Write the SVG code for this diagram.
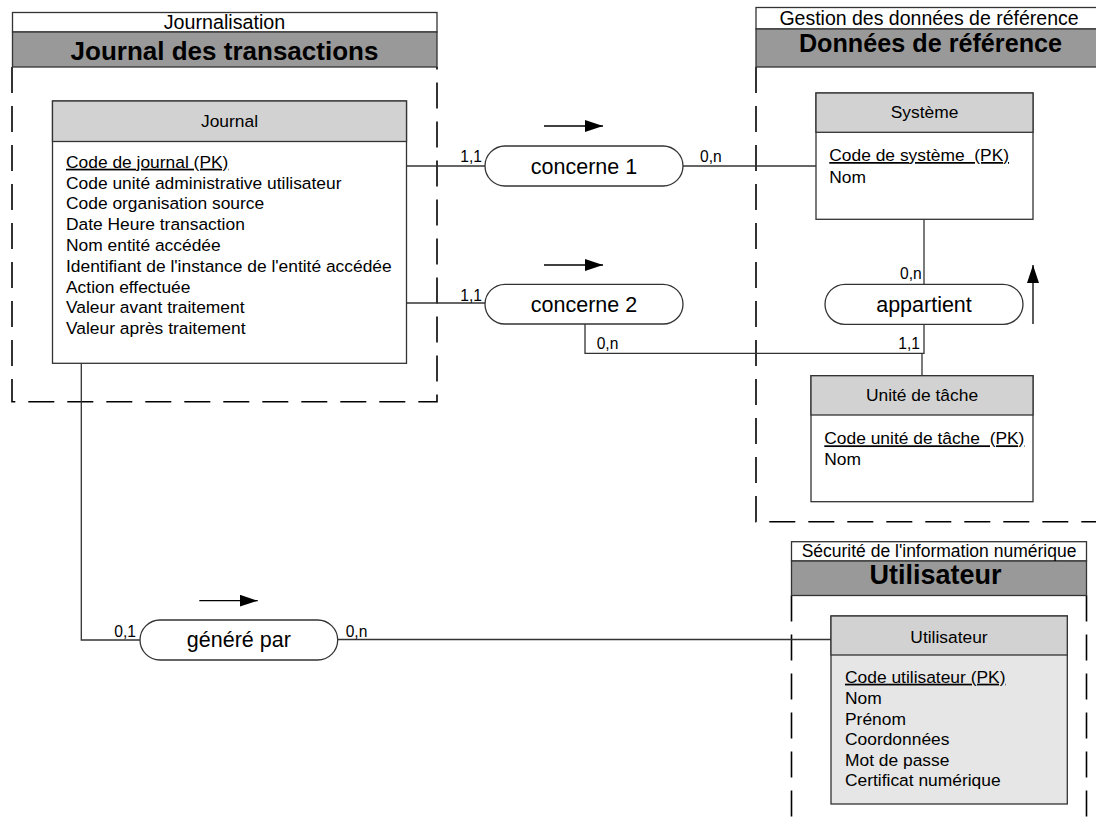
<svg xmlns="http://www.w3.org/2000/svg" width="1096" height="820" viewBox="0 0 1096 820">
<defs>
<style>
text{font-family:"Liberation Sans",Arial,sans-serif;fill:#000}
.pkgt{fill:#fff;stroke:#333;stroke-width:1.3}
.pkgb{fill:#999;stroke:#333;stroke-width:1.3}
.dash{fill:none;stroke:#000;stroke-width:1.6;stroke-dasharray:26 13}
.ent{fill:#fff;stroke:#333;stroke-width:1.3}
.entg{fill:#e6e6e6;stroke:#333;stroke-width:1.3}
.hdr{fill:#d2d2d2;stroke:#333;stroke-width:1.3}
.pill{fill:#fff;stroke:#333;stroke-width:1.3}
.ln{fill:none;stroke:#333;stroke-width:1.3}
.t17{font-size:17.4px}
.big{font-size:21.5px}
.card{font-size:15.6px}
.bold{font-weight:bold}
</style>
<marker id="arr" markerUnits="userSpaceOnUse" markerWidth="18" markerHeight="12" refX="18" refY="6" orient="auto">
<polygon points="0,0 18,6 0,12" fill="#000"/>
</marker>
</defs>
<rect width="1096" height="820" fill="#fff"/>

<g id="pkg-journalisation">
<path class="dash" d="M12,67 V401.7 H437 V67"/>
<rect class="pkgt" x="12.5" y="12.5" width="424.5" height="19.5"/>
<rect class="pkgb" x="12.5" y="32" width="424.5" height="35"/>
<text x="224.5" y="29" text-anchor="middle" style="font-size:19.7px">Journalisation</text>
<text x="224.5" y="59.5" text-anchor="middle" class="bold" style="font-size:26px">Journal des transactions</text>
</g>

<g id="pkg-reference">
<path class="dash" d="M756,67 V521.7 H1110"/>
<rect class="pkgt" x="756" y="7.5" width="346" height="21.5"/>
<rect class="pkgb" x="756" y="29" width="346" height="38"/>
<text x="929" y="24.5" text-anchor="middle" style="font-size:19.5px">Gestion des données de référence</text>
<text x="930.5" y="51.5" text-anchor="middle" class="bold" style="font-size:25.2px">Données de référence</text>
</g>

<g id="pkg-utilisateur">
<path class="dash" d="M791.5,595.5 V830 M1086.5,595.5 V830"/>
<rect class="pkgt" x="791.5" y="541.7" width="295" height="19.3"/>
<rect class="pkgb" x="791.5" y="561" width="295" height="34.5"/>
<text x="939" y="556.7" text-anchor="middle" style="font-size:17.5px">Sécurité de l'information numérique</text>
<text x="935.5" y="584.3" text-anchor="middle" class="bold" style="font-size:27px">Utilisateur</text>
</g>

<g id="connectors">
<path class="ln" d="M406,166 H485"/>
<path class="ln" d="M683,166 H816"/>
<path class="ln" d="M406,303 H485"/>
<path class="ln" d="M585,324 V353.3 H924 V324"/>
<path class="ln" d="M924,219.3 V284.3"/>
<path class="ln" d="M922,353.3 V375.7"/>
<path class="ln" d="M81.3,363.3 V640 H140"/>
<path class="ln" d="M337.7,639.5 H831"/>
<text class="card" x="482" y="162" text-anchor="end">1,1</text>
<text class="card" x="700" y="162">0,n</text>
<text class="card" x="482" y="300.7" text-anchor="end">1,1</text>
<text class="card" x="596.7" y="349.3">0,n</text>
<text class="card" x="921.7" y="279.3" text-anchor="end">0,n</text>
<text class="card" x="920" y="349.3" text-anchor="end">1,1</text>
<text class="card" x="136" y="636.7" text-anchor="end">0,1</text>
<text class="card" x="345.7" y="636.7">0,n</text>
<path d="M544,126 H603" stroke="#000" stroke-width="1.3" marker-end="url(#arr)"/>
<path d="M544,265 H603" stroke="#000" stroke-width="1.3" marker-end="url(#arr)"/>
<path d="M1033,324 V265" stroke="#000" stroke-width="1.3" marker-end="url(#arr)"/>
<path d="M199.3,600.7 H257.7" stroke="#000" stroke-width="1.3" marker-end="url(#arr)"/>
</g>

<g id="journal">
<rect class="ent" x="52.5" y="101" width="354" height="262.3"/>
<rect class="hdr" x="52.5" y="101" width="354" height="40.5"/>
<text class="t17" x="229.5" y="127" text-anchor="middle">Journal</text>
<text class="t17" x="66" y="167.7">
<tspan x="66" text-decoration="underline">Code de journal (PK)</tspan>
<tspan x="66" dy="20.8">Code unité administrative utilisateur</tspan>
<tspan x="66" dy="20.8">Code organisation source</tspan>
<tspan x="66" dy="20.8">Date Heure transaction</tspan>
<tspan x="66" dy="20.8">Nom entité accédée</tspan>
<tspan x="66" dy="20.8">Identifiant de l'instance de l'entité accédée</tspan>
<tspan x="66" dy="20.8">Action effectuée</tspan>
<tspan x="66" dy="20.8">Valeur avant traitement</tspan>
<tspan x="66" dy="20.8">Valeur après traitement</tspan>
</text>
</g>

<g id="systeme">
<rect class="ent" x="816" y="93" width="217" height="126.3"/>
<rect class="hdr" x="816" y="93" width="217" height="39.3"/>
<text class="t17" x="924.5" y="118.3" text-anchor="middle">Système</text>
<text class="t17" x="829.3" y="161" text-decoration="underline" xml:space="preserve">Code de système  (PK)</text>
<text class="t17" x="829.3" y="182.7">Nom</text>
</g>

<g id="unite-tache">
<rect class="ent" x="811" y="375.7" width="222" height="126"/>
<rect class="hdr" x="811" y="375.7" width="222" height="39.3"/>
<text class="t17" x="922" y="401" text-anchor="middle">Unité de tâche</text>
<text class="t17" x="824.3" y="444.3" text-decoration="underline" xml:space="preserve">Code unité de tâche  (PK)</text>
<text class="t17" x="824.3" y="465">Nom</text>
</g>

<g id="utilisateur">
<rect class="entg" x="831" y="616" width="236.3" height="188"/>
<rect class="hdr" x="831" y="616" width="236.3" height="39"/>
<text class="t17" x="949" y="643.3" text-anchor="middle">Utilisateur</text>
<text class="t17" x="845" y="682.7">
<tspan x="845" text-decoration="underline">Code utilisateur (PK)</tspan>
<tspan x="845" dy="21">Nom</tspan>
<tspan x="845" dy="21">Prénom</tspan>
<tspan x="845" dy="20.5">Coordonnées</tspan>
<tspan x="845" dy="20.5">Mot de passe</tspan>
<tspan x="845" dy="20.5">Certificat numérique</tspan>
</text>
</g>

<g id="concerne1">
<rect class="pill" x="485" y="146" width="198" height="40" rx="20" ry="20"/>
<text class="big" x="584" y="173.5" text-anchor="middle">concerne 1</text>
</g>

<g id="concerne2">
<rect class="pill" x="485" y="284.3" width="198" height="39.7" rx="20" ry="20"/>
<text class="big" x="584" y="311.5" text-anchor="middle">concerne 2</text>
</g>

<g id="appartient">
<rect class="pill" x="825" y="284.3" width="198" height="40" rx="20" ry="20"/>
<text class="big" x="924" y="311.5" text-anchor="middle">appartient</text>
</g>

<g id="genere-par">
<rect class="pill" x="140" y="620" width="197.7" height="40" rx="20" ry="20"/>
<text class="big" x="238.8" y="647" text-anchor="middle">généré par</text>
</g>
</svg>
